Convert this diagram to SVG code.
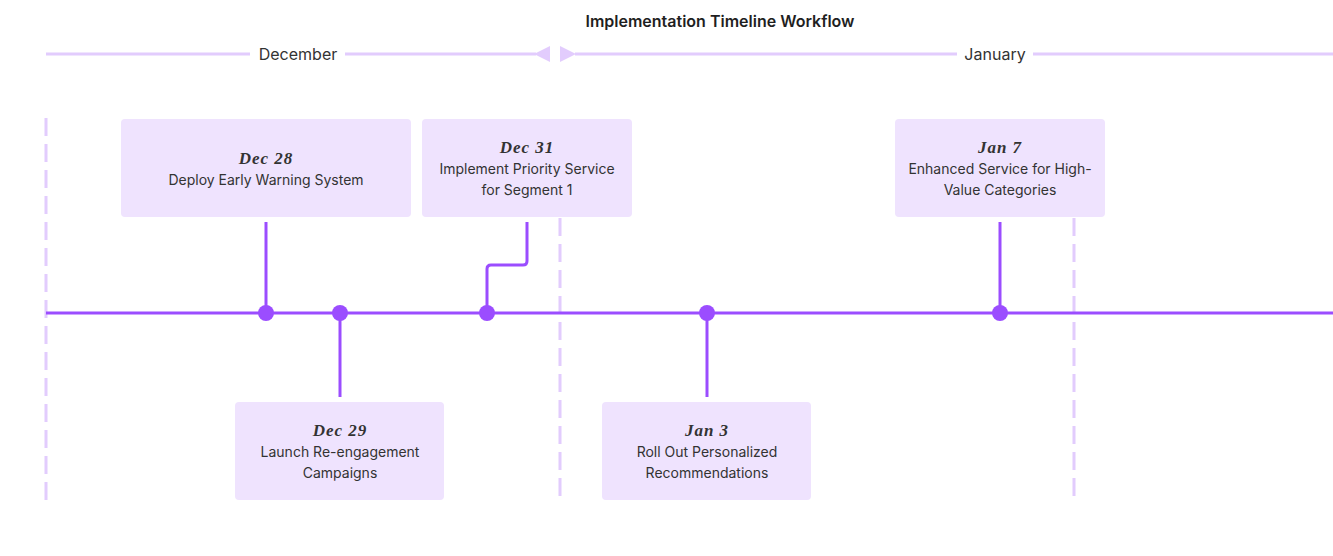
<svg xmlns="http://www.w3.org/2000/svg" width="1333" height="556" viewBox="0 0 1333 556">
<style>
.title{font-family:Inter,"Liberation Sans",sans-serif;font-size:16px;font-weight:600;fill:#1f1f1f;text-anchor:middle}
.month{font-family:Inter,"Liberation Sans",sans-serif;font-size:16px;fill:#333;text-anchor:middle}
.txt{font-family:Inter,"Liberation Sans",sans-serif;font-size:14px;fill:#333;text-anchor:middle}
.date{font-family:"Liberation Serif","DejaVu Serif",serif;font-style:italic;font-weight:bold;font-size:17px;fill:#333;text-anchor:middle;letter-spacing:1px}
.box{fill:#efe3fe}
.mline{stroke:#e2ccfd;stroke-width:3;fill:none}
.tri{fill:#e2ccfd}
.sep{stroke:#e2ccfd;stroke-width:3;stroke-dasharray:18 8;fill:none}
.axis{stroke:#9b4dff;stroke-width:3;fill:none}
.conn{stroke:#9b4dff;stroke-width:3;fill:none;stroke-linejoin:round}
.dot{fill:#9b4dff}
</style>
<text class="title" x="720" y="27">Implementation Timeline Workflow</text>
<g id="months">
<line class="mline" x1="46" y1="54" x2="250" y2="54"/>
<text class="month" x="298" y="60">December</text>
<line class="mline" x1="345" y1="54" x2="536" y2="54"/>
<polygon class="tri" points="534,54 550,46 550,62"/>
<polygon class="tri" points="560,46 576,54 560,62"/>
<line class="mline" x1="575" y1="54" x2="957" y2="54"/>
<text class="month" x="995" y="60">January</text>
<line class="mline" x1="1033" y1="54" x2="1333" y2="54"/>
</g>
<g id="separators">
<line class="sep" x1="46" y1="118" x2="46" y2="500"/>
<line class="sep" x1="560" y1="218" x2="560" y2="500"/>
<line class="sep" x1="1074" y1="218" x2="1074" y2="500"/>
</g>
<g id="connectors">
<line class="axis" x1="46" y1="313" x2="1333" y2="313"/>
<line class="conn" x1="266" y1="222" x2="266" y2="313"/>
<line class="conn" x1="340" y1="313" x2="340" y2="397"/>
<path class="conn" d="M527 222 V261 Q527 265 523 265 H491 Q487 265 487 269 V313"/>
<line class="conn" x1="707" y1="313" x2="707" y2="397"/>
<line class="conn" x1="1000" y1="222" x2="1000" y2="313"/>
<circle class="dot" cx="266" cy="313" r="8"/>
<circle class="dot" cx="340" cy="313" r="8"/>
<circle class="dot" cx="487" cy="313" r="8"/>
<circle class="dot" cx="707" cy="313" r="8"/>
<circle class="dot" cx="1000" cy="313" r="8"/>
</g>
<g id="dec28">
<rect class="box" x="121" y="119" width="290" height="98" rx="4"/>
<text class="date" x="266" y="164">Dec 28</text>
<text class="txt" x="266" y="185">Deploy Early Warning System</text>
</g>
<g id="dec31">
<rect class="box" x="422" y="119" width="210" height="98" rx="4"/>
<text class="date" x="527" y="153">Dec 31</text>
<text class="txt" x="527" y="174">Implement Priority Service</text>
<text class="txt" x="527" y="195">for Segment 1</text>
</g>
<g id="jan7">
<rect class="box" x="895" y="119" width="210" height="98" rx="4"/>
<text class="date" x="1000" y="153">Jan 7</text>
<text class="txt" x="1000" y="174">Enhanced Service for High-</text>
<text class="txt" x="1000" y="195">Value Categories</text>
</g>
<g id="dec29">
<rect class="box" x="235" y="402" width="209" height="98" rx="4"/>
<text class="date" x="340" y="436">Dec 29</text>
<text class="txt" x="340" y="457">Launch Re-engagement</text>
<text class="txt" x="340" y="478">Campaigns</text>
</g>
<g id="jan3">
<rect class="box" x="602" y="402" width="209" height="98" rx="4"/>
<text class="date" x="707" y="436">Jan 3</text>
<text class="txt" x="707" y="457">Roll Out Personalized</text>
<text class="txt" x="707" y="478">Recommendations</text>
</g>
</svg>
